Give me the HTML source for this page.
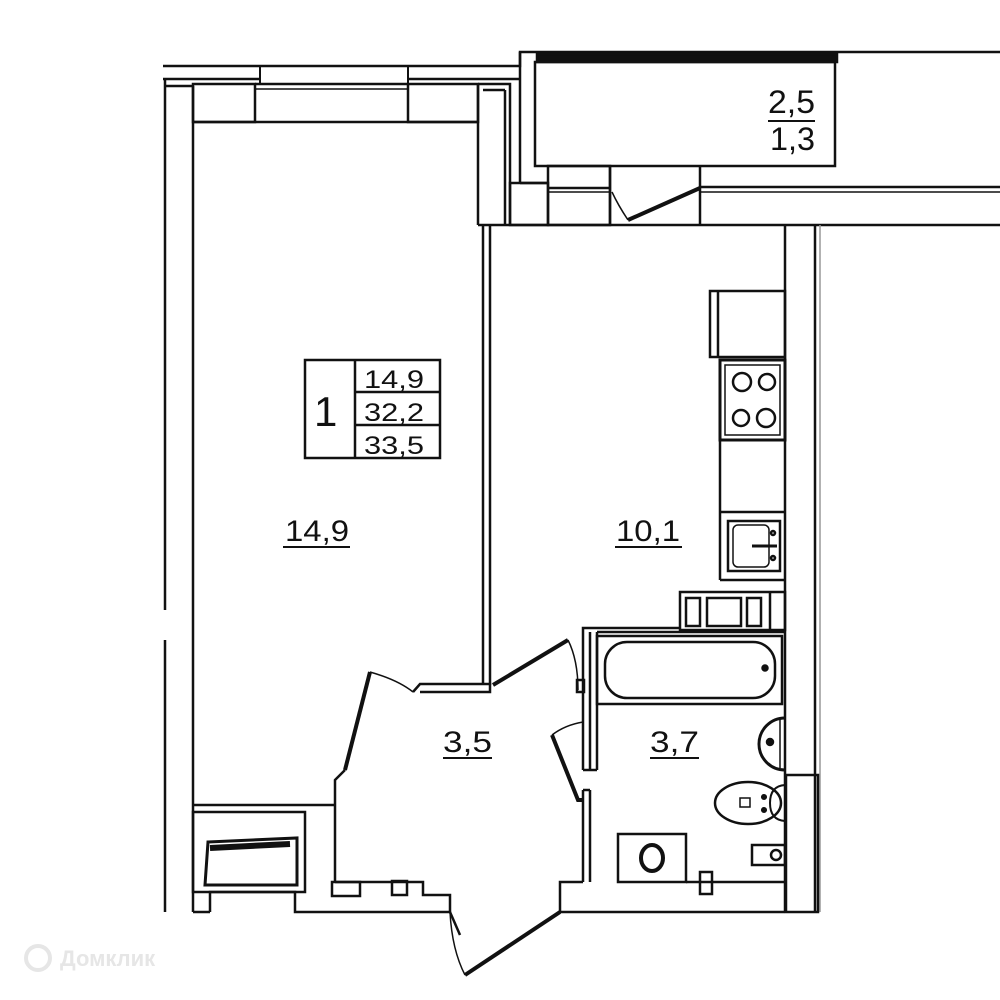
<!DOCTYPE html>
<html><head><meta charset="utf-8"><style>
html,body{margin:0;padding:0;background:#fff}
svg{display:block}
text{font-family:"Liberation Sans",sans-serif;fill:#111}
</style></head><body>
<svg width="1000" height="1000" viewBox="0 0 1000 1000" xmlns="http://www.w3.org/2000/svg">
<g fill="none" stroke="#111" stroke-width="2.5">
<polyline points="163,66 520,66 520,52 1000,52"/>
<line x1="163" y1="79" x2="260" y2="79"/>
<line x1="408" y1="79" x2="520" y2="79"/>
<line x1="165" y1="79" x2="165" y2="610"/>
<line x1="165" y1="640" x2="165" y2="912"/>
<line x1="193" y1="86" x2="193" y2="912"/>
<line x1="165" y1="86" x2="193" y2="86"/>
<rect x="193" y="84" width="62" height="38"/>
<rect x="408" y="84" width="70" height="38"/>
<line x1="193" y1="122" x2="478" y2="122"/>
<rect x="260" y="66" width="148" height="18" stroke-width="2"/>
<line x1="255" y1="84" x2="408" y2="84"/>
<line x1="255" y1="89" x2="408" y2="89" stroke-width="1.5"/>
<polyline points="478,84 510,84 510,225"/>
<line x1="478" y1="84" x2="478" y2="225"/>
<line x1="483" y1="90" x2="505" y2="90"/>
<line x1="505" y1="90" x2="505" y2="225"/>
<line x1="478" y1="225" x2="1000" y2="225"/>
<line x1="483" y1="225" x2="483" y2="685"/>
<line x1="490" y1="225" x2="490" y2="685"/>
<rect x="535" y="62" width="300" height="104"/>
<rect x="537" y="54" width="300" height="8" fill="#111"/>
<line x1="520" y1="52" x2="520" y2="183"/>
<line x1="520" y1="183" x2="548" y2="183"/>
<rect x="510" y="183" width="38" height="42"/>
<rect x="548" y="166" width="62" height="59"/>
<line x1="548" y1="188" x2="610" y2="188"/>
<line x1="548" y1="192" x2="610" y2="192" stroke-width="1.5"/>
<line x1="610" y1="166" x2="610" y2="225"/>
<line x1="700" y1="166" x2="700" y2="225"/>
<line x1="700" y1="187" x2="1000" y2="187"/>
<line x1="700" y1="192" x2="1000" y2="192" stroke-width="1.5"/>
<line x1="628" y1="220" x2="700" y2="188" stroke-width="4"/>
<path d="M612,192 Q618,205 628,220" stroke-width="1.5"/>
<line x1="785" y1="225" x2="785" y2="912"/>
<line x1="815" y1="225" x2="815" y2="912"/>
<line x1="820" y1="225" x2="820" y2="912" stroke="#999" stroke-width="1.5"/>
<rect x="710" y="291" width="75" height="66"/>
<line x1="718" y1="291" x2="718" y2="357"/>
<rect x="720" y="360" width="65" height="80" stroke-width="3"/>
<rect x="725" y="365" width="55" height="70" stroke-width="1.5"/>
<circle cx="742" cy="382" r="9"/><circle cx="767" cy="382" r="8"/>
<circle cx="741" cy="418" r="8"/><circle cx="766" cy="418" r="9"/>
<line x1="720" y1="440" x2="720" y2="580"/>
<line x1="720" y1="512" x2="785" y2="512"/>
<line x1="720" y1="580" x2="785" y2="580"/>
<rect x="728" y="521" width="52" height="50"/>
<rect x="733" y="525" width="36" height="42" rx="5" stroke-width="1.5"/>
<circle cx="773" cy="533" r="2"/><circle cx="773" cy="558" r="2"/>
<line x1="752" y1="546" x2="777" y2="546" stroke-width="3"/>
<rect x="680" y="592" width="105" height="38"/>
<rect x="686" y="598" width="14" height="28"/><rect x="707" y="598" width="34" height="28"/>
<rect x="747" y="598" width="14" height="28"/><line x1="770" y1="592" x2="770" y2="630"/>
<polyline points="583,690 583,628 680,628"/>
<line x1="597" y1="632" x2="785" y2="632"/>
<line x1="597" y1="632" x2="597" y2="770"/>
<line x1="583" y1="770" x2="583" y2="690"/>
<line x1="590" y1="770" x2="590" y2="632"/>
<line x1="583" y1="770" x2="597" y2="770"/>
<rect x="597" y="636" width="185" height="68"/>
<rect x="605" y="642" width="170" height="56" rx="22"/>
<circle cx="765" cy="668" r="2.5" fill="#111"/>
<path d="M785,718 A24,24 0 1 0 785,770" stroke-width="3"/>
<line x1="780" y1="718" x2="780" y2="768" stroke-width="1.5"/>
<circle cx="770" cy="742" r="3" fill="#111"/>
<ellipse cx="748" cy="803" rx="33" ry="21"/>
<rect x="740" y="798" width="10" height="9" stroke-width="1.5"/>
<path d="M785,785 Q770,786 770,803 Q770,820 785,821" stroke-width="2"/>
<circle cx="764" cy="797" r="1.8" fill="#111"/><circle cx="764" cy="810" r="1.8" fill="#111"/>
<rect x="786" y="775" width="32" height="137"/>
<rect x="752" y="845" width="33" height="20"/>
<circle cx="776" cy="855" r="5"/>
<rect x="618" y="834" width="68" height="48"/>
<ellipse cx="652" cy="858" rx="11" ry="13" stroke-width="4"/>
<line x1="583" y1="790" x2="583" y2="882"/>
<line x1="590" y1="790" x2="590" y2="882"/>
<line x1="583" y1="790" x2="590" y2="790"/>
<polyline points="552,735 578,800 583,800" stroke-width="4"/>
<path d="M552,735 Q565,725 583,722" stroke-width="1.5"/>
<line x1="493" y1="685" x2="568" y2="640" stroke-width="4"/>
<path d="M568,640 Q578,660 578,690" stroke-width="1.5"/>
<rect x="577" y="680" width="7" height="12"/>
<polyline points="413,692 420,684 490,684 490,692 420,692" stroke-width="2.5"/>
<line x1="370" y1="672" x2="345" y2="770" stroke-width="4"/>
<path d="M370,672 Q398,680 413,692" stroke-width="1.5"/>
<polyline points="345,770 335,780 335,882" />
<polyline points="193,805 335,805"/>
<rect x="193" y="812" width="112" height="80"/>
<polygon points="208,842 297,838 297,885 205,885" stroke-width="3"/>
<path d="M210,848 L290,844" stroke-width="6"/>
<line x1="193" y1="912" x2="210" y2="912"/>
<polyline points="210,912 210,892 295,892 295,912 450,912"/>
<polyline points="335,882 423,882 423,895 450,895 450,912"/>
<rect x="332" y="882" width="28" height="14"/>
<rect x="392" y="881" width="15" height="14"/>
<line x1="450" y1="912" x2="460" y2="935"/>
<line x1="560" y1="912" x2="465" y2="975" stroke-width="4"/>
<path d="M450,912 Q452,950 465,975" stroke-width="1.5"/>
<polyline points="560,912 560,882 583,882"/>
<polyline points="560,912 785,912"/>
<line x1="686" y1="882" x2="785" y2="882"/>
<rect x="700" y="872" width="12" height="22"/>
<rect x="305" y="360" width="135" height="98"/>
<line x1="355" y1="360" x2="355" y2="458"/>
<line x1="355" y1="392" x2="440" y2="392"/>
<line x1="355" y1="425" x2="440" y2="425"/>
<line x1="283" y1="547" x2="350" y2="547" stroke-width="2"/>
<line x1="615" y1="547" x2="682" y2="547" stroke-width="2"/>
<line x1="443" y1="758" x2="492" y2="758" stroke-width="2"/>
<line x1="650" y1="758" x2="699" y2="758" stroke-width="2"/>
<line x1="768" y1="121" x2="815" y2="121" stroke-width="2"/>
</g>
<g font-size="30">
<text x="285" y="541" textLength="64" lengthAdjust="spacingAndGlyphs">14,9</text>
<text x="616" y="541" textLength="64" lengthAdjust="spacingAndGlyphs">10,1</text>
<text x="443" y="752" textLength="49" lengthAdjust="spacingAndGlyphs">3,5</text>
<text x="650" y="752" textLength="49" lengthAdjust="spacingAndGlyphs">3,7</text>
<text x="768" y="113" font-size="32" textLength="47" lengthAdjust="spacingAndGlyphs">2,5</text>
<text x="770" y="150" font-size="32" textLength="45" lengthAdjust="spacingAndGlyphs">1,3</text>
<text x="364" y="388" font-size="25" textLength="60" lengthAdjust="spacingAndGlyphs">14,9</text>
<text x="364" y="421" font-size="25" textLength="60" lengthAdjust="spacingAndGlyphs">32,2</text>
<text x="364" y="454" font-size="25" textLength="60" lengthAdjust="spacingAndGlyphs">33,5</text>
<text x="314" y="426" font-size="42">1</text>
</g>
<text x="60" y="966" font-size="22" font-weight="bold" style="fill:#e6e6e6">Домклик</text>
<circle cx="38" cy="958" r="12" fill="none" stroke="#e6e6e6" stroke-width="4"/>
</svg>
</body></html>
